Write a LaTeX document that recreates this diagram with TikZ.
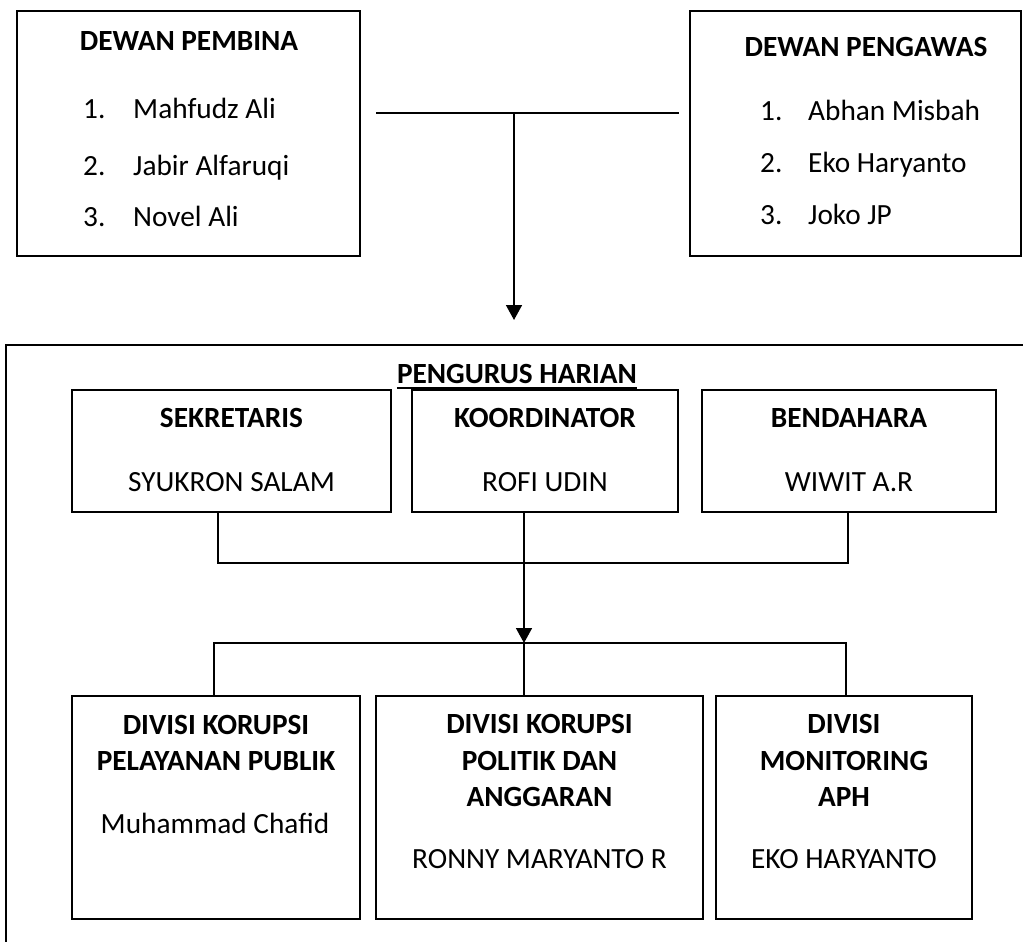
\documentclass[tikz,border=0pt]{standalone}
\usepackage{fontspec}
\setmainfont{Carlito}
\usetikzlibrary{arrows.meta}

\begin{document}
\begin{tikzpicture}[x=1pt, y=-1pt, font=\fontsize{29.3}{36.3}\selectfont,
        box/.style={draw, line width=1.6pt, inner sep=0pt},
        link/.style={line width=1.6pt},
        arr/.style={link, -{Triangle[length=15pt,width=16pt]}},
        txt/.style={inner sep=0pt, anchor=base},
        hd/.style={txt, font=\fontsize{29.3}{36.3}\selectfont\bfseries, align=center},
        item/.style={inner sep=0pt, anchor=base west}]

    \useasboundingbox (0,0) rectangle (1023,942);
    \clip (0,0) rectangle (1023,942);

    % dewan
    \node[box, minimum width=343pt, minimum height=245pt] (pembina) at (188.5,133.5) {};
    \node[box, minimum width=331pt, minimum height=245pt] (pengawas) at (855.5,133.5) {};
    \node[hd] (pembinaHd) at (189,51) {DEWAN PEMBINA};
    \node[hd] (pengawasHd) at (866,57) {DEWAN PENGAWAS};
    \foreach \n/\name/\y in {1/Mahfudz Ali/118, 2/Jabir Alfaruqi/175, 3/Novel Ali/226} {
        \node[item] (pbNo\n) at (83,\y) {\n.};
        \node[item] (pbName\n) at (133,\y) {\name};
    }
    \foreach \n/\name/\y in {1/Abhan Misbah/120, 2/Eko Haryanto/172, 3/Joko JP/224} {
        \node[item] (pwNo\n) at (760,\y) {\n.};
        \node[item] (pwName\n) at (808,\y) {\name};
    }
    \coordinate (jl) at (376,113);
    \coordinate (jr) at (679,113);
    \coordinate (jm) at (514,113);
    \coordinate (tip) at (514,320);
    \draw[link] (jl) -- (jr);
    \draw[arr] (jm) -- (tip);

    % pengurus harian
    \draw[link] (6,345) rectangle (1100,1000);
    \node[hd] (harian) at (517,383) {PENGURUS HARIAN};
    \draw[link] ([yshift=-5pt]harian.base west) -- ([yshift=-5pt]harian.base east);

    \node[box, minimum width=319pt, minimum height=122pt] (sekretaris) at (231.5,451) {};
    \node[box, minimum width=266pt, minimum height=122pt] (koordinator) at (545,451) {};
    \node[box, minimum width=294pt, minimum height=122pt] (bendahara) at (849,451) {};
    \node[hd] at (231.5,427) {SEKRETARIS};
    \node[txt] at (231.5,491) {SYUKRON SALAM};
    \node[hd] at (545,427) {KOORDINATOR};
    \node[txt] at (545,491) {ROFI UDIN};
    \node[hd] at (849,427) {BENDAHARA};
    \node[txt] at (849,491) {WIWIT A.R};

    \coordinate (busL) at (218,563);
    \coordinate (busR) at (848,563);
    \coordinate (hub) at (524,643);
    \coordinate (lowL) at (214,643);
    \coordinate (lowR) at (846,643);
    \draw[link] (sekretaris.south -| busL) |- (busR) -- (bendahara.south -| busR);
    \draw[arr] (koordinator.south -| hub) -- (hub);

    % divisi
    \node[box, minimum width=288pt, minimum height=223pt] (divA) at (216,807.5) {};
    \node[box, minimum width=327pt, minimum height=223pt] (divB) at (539.5,807.5) {};
    \node[box, minimum width=256pt, minimum height=223pt] (divC) at (844,807.5) {};
    \node[hd] at (216,770.5) {DIVISI KORUPSI\\PELAYANAN PUBLIK};
    \node[txt] at (215,833) {Muhammad Chafid};
    \node[hd] at (539.5,806.5) {DIVISI KORUPSI\\POLITIK DAN\\ANGGARAN};
    \node[txt] at (539.5,868) {RONNY MARYANTO R};
    \node[hd] at (844,806.5) {DIVISI\\MONITORING\\APH};
    \node[txt] at (844,868) {EKO HARYANTO};

    \draw[link] (divA.north -| lowL) |- (lowR) -- (divC.north -| lowR);
    \draw[link] (hub) -- (divB.north -| hub);
\end{tikzpicture}
\end{document}
